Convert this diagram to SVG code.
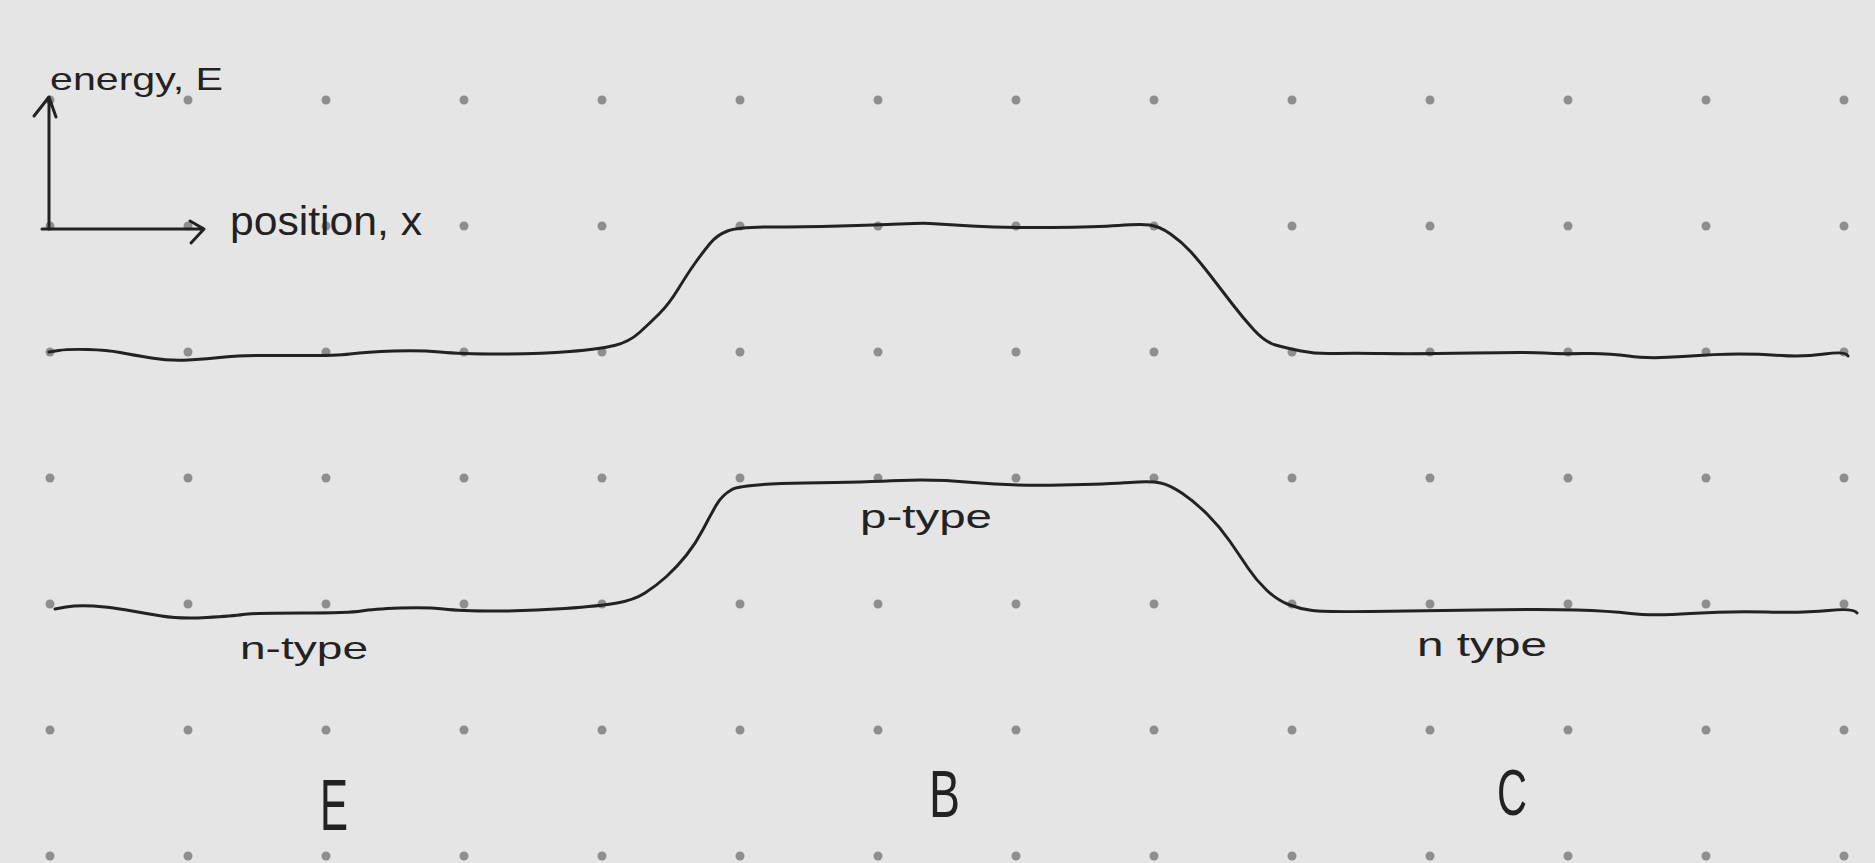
<svg xmlns="http://www.w3.org/2000/svg" width="1875" height="863" viewBox="0 0 1875 863">
<style>
.ink{fill:none;stroke:#222;stroke-width:3;stroke-linecap:round;stroke-linejoin:round}
.t{font-family:"Liberation Sans","DejaVu Sans",sans-serif;fill:#222}
</style>
<defs>
<pattern id="dots" patternUnits="userSpaceOnUse" x="-19" y="37" width="138" height="126">
<circle cx="69" cy="63" r="4.5" fill="#8e8e8e"/>
</pattern>
</defs>
<rect width="1875" height="863" fill="#e5e5e5"/>
<rect width="1875" height="863" fill="url(#dots)"/>
<g id="axes">
<path class="ink" d="M49,229 L49,98 M34,116 L49,97 L56,117"/>
<path class="ink" d="M42,229 L203,229 M190,221 L204,229 L191,243"/>
<text class="t" x="50" y="90" font-size="32" textLength="173" lengthAdjust="spacingAndGlyphs">energy, E</text>
<text class="t" x="230" y="235" font-size="40" textLength="192" lengthAdjust="spacingAndGlyphs">position, x</text>
</g>
<g id="conduction-band">
<path class="ink" d="M49,352 L58.5,350.5 Q68,349 87.5,349.5 Q107,350 120,352.5 Q133,355 151.5,358 Q170,361 188.5,360 Q207,359 225,357 Q243,355 288,355.5 Q333,356 350,354 Q367,352 393.5,351 Q420,350 440,352 Q460,354 500,354 Q540,354 570,351.5 Q600,349 614.5,345.5 Q629,342 639.5,332.5 Q650,323 659.5,313.5 Q669,304 678.5,288.5 Q688,273 695.5,262.5 Q703,252 710,243.5 Q717,235 727.5,231 Q738,227 770.5,227 Q803,227 839.5,226 Q876,225 899.5,224 Q923,223 930,223.5 Q937,224 971.5,226 Q1006,228 1051.5,227.5 Q1097,227 1118.5,225.5 Q1140,224 1149.5,225 Q1159,226 1170.5,234 Q1182,242 1191,252 Q1200,262 1210,275 Q1220,288 1231.5,303 Q1243,318 1254,330 Q1265,342 1275.5,345 Q1286,348 1301,351 Q1316,354 1333.5,353.5 Q1351,353 1383,353.5 Q1415,354 1473,353 Q1531,352 1544,353 Q1557,354 1583,353.5 Q1609,353 1628.5,356 Q1648,359 1682.5,356.5 Q1717,354 1738.5,354 Q1760,354 1781.5,355.5 Q1803,357 1824.5,354 Q1846,351 1848,356"/>
</g>
<g id="valence-band">
<path class="ink" d="M55,609 L66,607 Q77,605 93.5,606 Q110,607 126.5,610 Q143,613 161.5,616 Q180,619 206.5,617.5 Q233,616 243,614.5 Q253,613 301.5,613 Q350,613 361.5,611 Q373,609 400,608 Q427,607 443.5,609 Q460,611 495,611 Q530,611 565,608.5 Q600,606 617,603 Q634,600 645,593 Q656,586 666.5,576.5 Q677,567 686.5,555 Q696,543 703,529.5 Q710,516 716,505.5 Q722,495 732,489.5 Q742,484 805,483 Q868,482 900.5,480.5 Q933,479 973,482.5 Q1013,486 1061,485 Q1109,484 1130,482.5 Q1151,481 1160.5,483 Q1170,485 1182.5,493.5 Q1195,502 1207.5,514.5 Q1220,527 1230,541.5 Q1240,556 1248,568 Q1256,580 1266.5,590 Q1277,600 1288.5,604.5 Q1300,609 1312.5,610.5 Q1325,612 1370,611.5 Q1415,611 1479.5,610 Q1544,609 1576.5,610 Q1609,611 1630.5,613.5 Q1652,616 1690.5,613.5 Q1729,611 1766,612 Q1803,613 1828.5,610.5 Q1854,608 1857,613"/>
</g>
<g id="labels">
<text class="t" x="860" y="528" font-size="34" textLength="132" lengthAdjust="spacingAndGlyphs">p-type</text>
<text class="t" x="240" y="659" font-size="32" textLength="128" lengthAdjust="spacingAndGlyphs">n-type</text>
<text class="t" x="1417" y="656" font-size="34" textLength="130" lengthAdjust="spacingAndGlyphs">n type</text>
</g>
<g id="region-E"><text class="t" x="320" y="830" font-size="72" textLength="28" lengthAdjust="spacingAndGlyphs">E</text></g>
<g id="region-B"><text class="t" x="929" y="817" font-size="66" textLength="31" lengthAdjust="spacingAndGlyphs">B</text></g>
<g id="region-C"><text class="t" x="1497" y="815" font-size="64" textLength="30" lengthAdjust="spacingAndGlyphs">C</text></g>
</svg>
